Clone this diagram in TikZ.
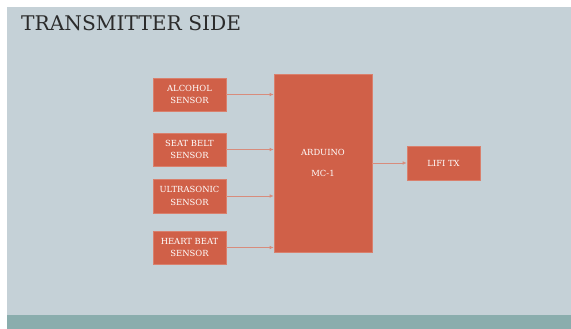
\documentclass[tikz,border=0pt]{standalone}
\usepackage{fontspec}
\setmainfont{DejaVu Serif}
\usetikzlibrary{arrows.meta}

\definecolor{slidebg}{HTML}{C5D1D7}
\definecolor{bandteal}{HTML}{8AADAD}
\definecolor{boxred}{HTML}{D06048}
\definecolor{arrowred}{HTML}{D88C7C}
\definecolor{titlegray}{HTML}{2B2B2B}

\tikzset{
blockbox/.style={fill=boxred, draw=boxred!80!white, line width=0.6pt,
  text=white, font=\fontsize{8.4}{12.5}\selectfont, align=center, inner sep=0pt},
link/.style={draw=arrowred, line width=0.7pt, -{Latex[length=4pt,width=3.5pt]}}
}

\begin{document}
\begin{tikzpicture}[x=1pt,y=-1pt]

% Fond
\useasboundingbox (0,0) rectangle (571,329);
\fill[white] (0,0) rectangle (571,329);
\fill[slidebg] (7,7) rectangle (571,329);
\fill[bandteal] (7,315) rectangle (571,329);

\node[anchor=west, text=titlegray, font=\fontsize{20.2}{22}\selectfont, inner sep=0pt] (title)
at (21,23) {TRANSMITTER SIDE};

% Capteurs
\foreach \name/\ytop/\ybot/\txt in {
alcohol/78/111/ALCOHOL\\SENSOR,
seatbelt/133/166/SEAT BELT\\SENSOR,
ultra/179/213/ULTRASONIC\\SENSOR,
heart/231/264/HEART BEAT\\SENSOR
}
{
\node[blockbox, minimum width=73pt, minimum height={\ybot-\ytop}] (\name)
at (189.5,{(\ytop+\ybot)/2}) {\txt};
}

\node[blockbox, minimum width=98pt, minimum height=178pt] (arduino)
at (323,163) {ARDUINO\\[8pt]MC-1};

\node[blockbox, minimum width=73pt, minimum height=34pt] (lifi)
at (443.5,163) {LIFI TX};

% Liaisons
\foreach \name in {alcohol,seatbelt,ultra,heart}
{
\draw[link] (\name.east) -- (\name.east -| arduino.west);
}

\draw[link] (arduino.east) -- (lifi.west);

\end{tikzpicture}
\end{document}
